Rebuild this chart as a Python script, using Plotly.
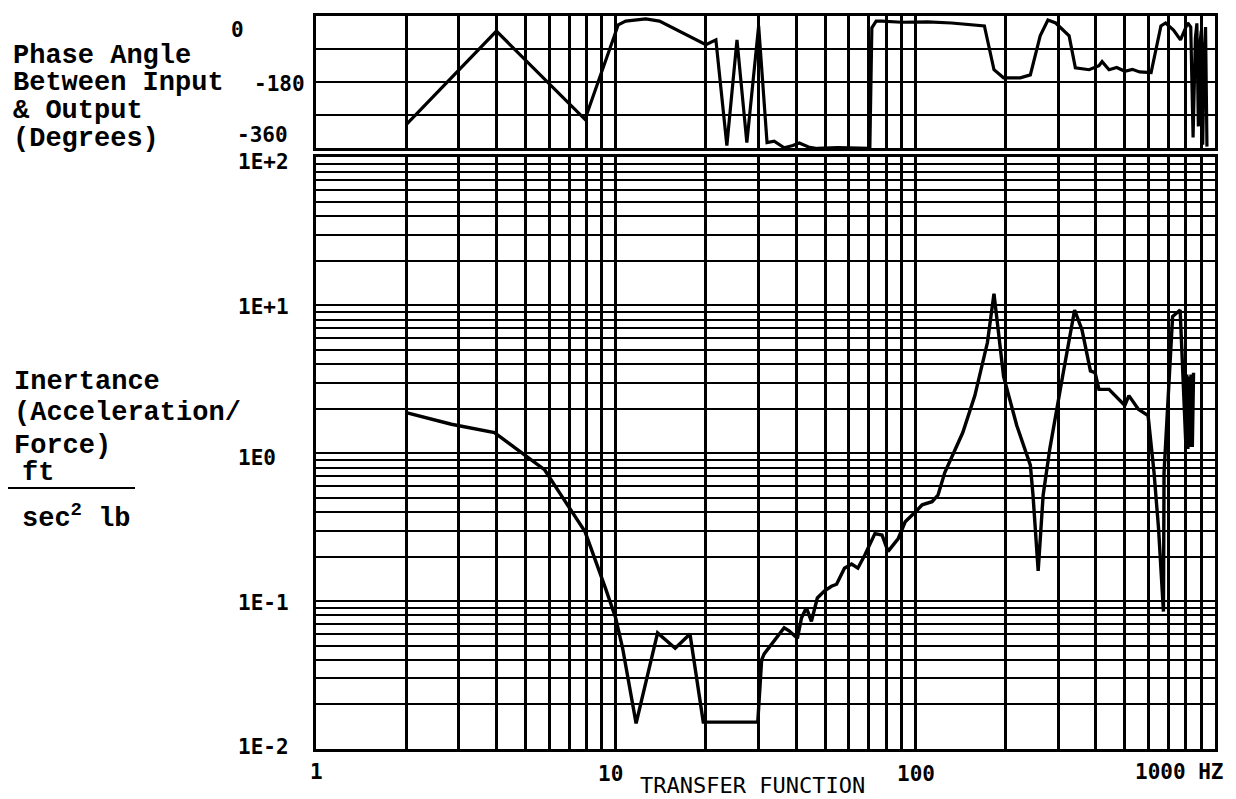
import numpy as np
import plotly.graph_objects as go

# ---------------- data ----------------
phase_freq = [2.0, 4.0, 7.9, 10.2, 10.8, 12.6, 14.0, 20.0, 21.6, 23.5, 25.4, 27.4, 30.0, 32.0,
              33.8, 36.5, 39.0, 41.0, 44.0, 47.0, 55.0, 62.0, 68.0, 70.5, 71.6, 74.0, 77.4,
              90.0, 110.0, 132.0, 170.0, 183.0, 197.0, 224.0, 242.0, 261.0, 277.0, 294.0,
              326.0, 342.0, 380.0, 400.0, 410.0, 420.0, 443.0, 470.0, 500.0, 530.0, 560.0,
              612.0, 637.0, 660.0, 684.0, 727.0, 767.0, 811.0, 830.0, 845.0, 860.0, 870.0,
              880.0, 890.0, 900.0, 910.0, 920.0, 930.0, 940.0]
phase_deg = [-295, -41, -281, -24, -14, -8, -14, -78, -65, -352, -65, -344, -27, -344,
             -340, -358, -352, -345, -356, -360, -358, -360, -360, -360, -32, -14, -14,
             -17, -16, -19, -27, -146, -168, -168, -160, -54, -11, -19,
             -54, -141, -146, -140, -135, -124, -146, -140, -150, -145, -152,
             -154, -81, -27, -19, -38, -65, -19, -30, -330, -60, -20,
             -300, -80, -40, -350, -100, -30, -355]

mag_freq = [2.0, 2.83, 3.94, 4.98, 5.8, 6.46, 7.9, 9.25, 10.0, 10.55, 11.7, 13.8, 15.8, 17.7,
            19.6, 29.8, 30.7, 31.3, 33.8, 36.5, 37.9, 40.4, 41.7, 43.3, 45.0, 47.1, 49.7,
            52.5, 54.6, 58.0, 61.3, 64.3, 67.9, 73.3, 77.4, 81.1, 87.7, 92.5, 100.0, 105.4,
            113.7, 119.0, 125.4, 144.0, 158.0, 174.0, 183.0, 197.0, 218.0, 242.0, 247.0,
            257.0, 267.0, 281.0, 310.0, 340.0, 360.0, 384.0, 398.0, 410.0, 443.0, 464.0,
            500.0, 516.0, 555.0, 598.0, 612.0, 626.0, 648.0, 673.0, 676.0, 722.0, 765.0,
            783.0, 800.0, 805.0, 812.0, 818.0, 825.0, 832.0, 840.0, 848.0]
mag_val = [1.88, 1.57, 1.38, 0.97, 0.77, 0.55, 0.295, 0.122, 0.077, 0.048, 0.0149, 0.061, 0.048,
           0.060, 0.0152, 0.0152, 0.040, 0.044, 0.054, 0.066, 0.063, 0.056, 0.077, 0.090,
           0.073, 0.105, 0.117, 0.126, 0.13, 0.167, 0.178, 0.167, 0.206, 0.286, 0.28, 0.217,
           0.265, 0.344, 0.40, 0.448, 0.47, 0.52, 0.74, 1.38, 2.45, 5.6, 12.0, 3.3, 1.54,
           0.83, 0.52, 0.16, 0.52, 1.07, 3.3, 9.3, 6.8, 3.6, 3.5, 2.7, 2.7, 2.45, 2.1, 2.45,
           1.98, 1.8, 1.19, 0.74, 0.31, 0.085, 0.74, 8.4, 9.3, 3.3, 1.1, 3.4, 1.07, 3.3, 1.1,
           3.4, 1.1, 3.5]

x_grid_vals = [m * 10 ** e for e in range(0, 3) for m in range(1, 10)] + [1000]
mag_grid_vals = [m * 10.0 ** e for e in range(-2, 2) for m in range(1, 10)] + [100]
phase_grid_vals = [-360, -270, -180, -90, 0]

x_tick_vals = [1, 10, 100, 1000]
x_tick_labels = ["1", "10", "100", "1000 HZ"]
mag_tick_vals = [100, 10, 1, 0.1, 0.01]
mag_tick_labels = ["1E+2", "1E+1", "1E0", "1E-1", "1E-2"]
phase_tick_vals = [0, -180, -360]
phase_tick_labels = ["0", "-180", "-360"]

phase_title_lines = ["Phase Angle", "Between Input", "& Output", "(Degrees)"]
mag_title_lines = ["Inertance", "(Acceleration/", "Force)"]
x_title = "TRANSFER FUNCTION"

# ---------------- geometry helpers (screen pixels -> paper) ----------------
W, H = 1236, 799
PAGE_OFF = 8          # default body margin of the html page
X0, X1, Y0, Y1 = 316, 1215, 13, 749   # plot area in screen pixels


def pxp(x):
    return (x - X0) / (X1 - X0)


def pyp(y):
    return (Y1 - y) / (Y1 - Y0)


fig = go.Figure()
fig.add_trace(go.Scatter(x=phase_freq, y=phase_deg, xaxis="x", yaxis="y", mode="lines",
                         line=dict(color="black", width=3.2), showlegend=False))
fig.add_trace(go.Scatter(x=mag_freq, y=mag_val, xaxis="x2", yaxis="y2", mode="lines",
                         line=dict(color="black", width=3.4), showlegend=False))

axis_common = dict(showline=True, mirror=True, linecolor="black", linewidth=3,
                   showgrid=True, gridcolor="black", zeroline=False,
                   showticklabels=False, ticks="", tickmode="array")

fig.update_layout(
    width=W, height=H, autosize=False,
    margin=dict(l=X0 - PAGE_OFF, r=W - X1 + PAGE_OFF, t=Y0 - PAGE_OFF,
                b=H - Y1 + PAGE_OFF, pad=0),
    paper_bgcolor="white", plot_bgcolor="white",
    font=dict(family="DejaVu Sans Mono", color="black"),
    xaxis=dict(axis_common, type="log", range=[0, 3], domain=[0, 1], anchor="y",
               tickvals=x_grid_vals, gridwidth=2.5),
    yaxis=dict(axis_common, range=[-360, 0], domain=[pyp(146), 1], anchor="x",
               tickvals=phase_grid_vals, gridwidth=2),
    xaxis2=dict(axis_common, type="log", range=[0, 3], domain=[0, 1], anchor="y2",
                tickvals=x_grid_vals, gridwidth=2.5),
    yaxis2=dict(axis_common, type="log", range=[-2, 2], domain=[0, pyp(155)], anchor="x2",
                tickvals=mag_grid_vals, gridwidth=2),
)

ann = []
tick_font = dict(family="DejaVu Sans Mono", size=21, color="black", weight="bold")
text_font = dict(family="Liberation Mono", size=27, color="black", weight="bold")

# x tick labels
x_shifts = [0, -5, 1, 0]
for v, t, s in zip(x_tick_vals, x_tick_labels, x_shifts):
    if t.endswith("HZ"):
        ann.append(dict(x=np.log10(v), xref="x2", y=pyp(772), yref="paper", text=t,
                        showarrow=False, xanchor="left", yanchor="middle", xshift=-82,
                        font=tick_font))
    else:
        ann.append(dict(x=np.log10(v), xref="x2", y=pyp(774 if v > 1 else 772), yref="paper",
                        text=t, showarrow=False, xanchor="center", yanchor="middle",
                        xshift=s, font=tick_font))
ann.append(dict(x=pxp(752), xref="paper", y=pyp(786), yref="paper", text=x_title,
                showarrow=False, xanchor="center", yanchor="middle",
                font=dict(family="DejaVu Sans Mono", size=22, color="black")))

# magnitude tick labels
mag_shift = [-5, -2, -5, -2, 2]
for v, t, s in zip(mag_tick_vals, mag_tick_labels, mag_shift):
    ann.append(dict(x=pxp(236), xref="paper", y=np.log10(v), yref="y2", text=t,
                    showarrow=False, xanchor="left", yanchor="middle", yshift=s, font=tick_font))

# phase tick labels
phase_pos = [(237, "center", -14), (252, "left", -2), (235, "left", 13)]
for v, t, (x, anc, s) in zip(phase_tick_vals, phase_tick_labels, phase_pos):
    ann.append(dict(x=pxp(x), xref="paper", y=v, yref="y", text=t, showarrow=False,
                    xanchor=anc, yanchor="middle", yshift=s, font=tick_font))

# left titles
for t, y in zip(phase_title_lines, [53, 80, 108, 137]):
    ann.append(dict(x=pxp(11), xref="paper", y=pyp(y), yref="paper", text=t, showarrow=False,
                    xanchor="left", yanchor="middle", font=text_font))
for t, y in zip(mag_title_lines, [380, 412, 445]):
    ann.append(dict(x=pxp(12), xref="paper", y=pyp(y), yref="paper", text=t, showarrow=False,
                    xanchor="left", yanchor="middle", font=text_font))
ann.append(dict(x=pxp(20), xref="paper", y=pyp(472), yref="paper", text="ft", showarrow=False,
                xanchor="left", yanchor="middle", font=text_font))
ann.append(dict(x=pxp(20), xref="paper", y=pyp(516), yref="paper", text="sec<sup>2</sup> lb",
                showarrow=False, xanchor="left", yanchor="middle", font=text_font))

fig.update_layout(annotations=ann)
fig.add_shape(type="line", xref="paper", yref="paper", x0=pxp(8), x1=pxp(135),
              y0=pyp(487), y1=pyp(487), line=dict(color="black", width=2))

fig.write_html("out.html")
